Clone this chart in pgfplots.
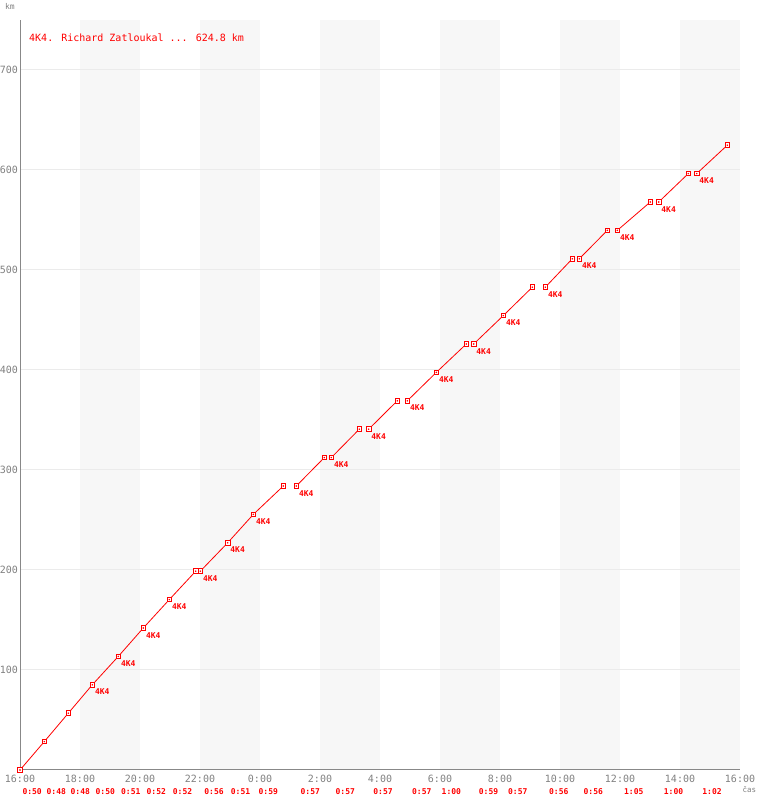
\documentclass[border=0pt]{standalone}
\usepackage{pgfplots}
\pgfplotsset{compat=1.18}
\usepackage{pgfplotstable}
\usepackage{fontspec}
\setmainfont{DejaVu Sans Mono}
\definecolor{band}{HTML}{F7F7F7}
\definecolor{gridc}{HTML}{EBEBEB}
\definecolor{axc}{HTML}{888888}
\definecolor{tickc}{HTML}{808080}
\definecolor{rd}{HTML}{FF0000}

\pgfplotstableread{
t km
0.000 0
0.810 28.4
1.610 56.8
2.410 85.2
3.277 113.6
4.110 142.0
4.977 170.4
5.857 198.8
nan nan
6.010 198.8
6.923 227.2
7.777 255.6
8.777 284.0
nan nan
9.210 284.0
10.143 312.4
nan nan
10.377 312.4
11.310 340.8
nan nan
11.623 340.8
12.577 369.2
nan nan
12.910 369.2
13.877 397.6
14.877 426.0
nan nan
15.123 426.0
16.110 454.4
17.077 482.8
nan nan
17.510 482.8
18.410 511.2
nan nan
18.643 511.2
19.577 539.6
nan nan
19.910 539.6
21.010 568.0
nan nan
21.290 568.0
22.277 596.4
nan nan
22.557 596.4
23.577 624.8
}\linetab

\pgfplotstableread{
t km
0.000 0
0.810 28.4
1.610 56.8
2.410 85.2
3.277 113.6
4.110 142.0
4.977 170.4
5.857 198.8
6.010 198.8
6.923 227.2
7.777 255.6
8.777 284.0
9.210 284.0
10.143 312.4
10.377 312.4
11.310 340.8
11.623 340.8
12.577 369.2
12.910 369.2
13.877 397.6
14.877 426.0
15.123 426.0
16.110 454.4
17.077 482.8
17.510 482.8
18.410 511.2
18.643 511.2
19.577 539.6
19.910 539.6
21.010 568.0
21.290 568.0
22.277 596.4
22.557 596.4
23.577 624.8
}\marktab

\pgfplotstableread{
t km lab
2.410 85.2 4K4
3.277 113.6 4K4
4.110 142.0 4K4
4.977 170.4 4K4
6.010 198.8 4K4
6.923 227.2 4K4
7.777 255.6 4K4
9.210 284.0 4K4
10.377 312.4 4K4
11.623 340.8 4K4
12.910 369.2 4K4
13.877 397.6 4K4
15.123 426.0 4K4
16.110 454.4 4K4
17.510 482.8 4K4
18.643 511.2 4K4
19.910 539.6 4K4
21.290 568.0 4K4
22.557 596.4 4K4
}\stoptab

\pgfplotstableread{
t y lab
0.405 -22 0:50
1.210 -22 0:48
2.010 -22 0:48
2.843 -22 0:50
3.693 -22 0:51
4.543 -22 0:52
5.417 -22 0:52
6.467 -22 0:56
7.350 -22 0:51
8.277 -22 0:59
9.677 -22 0:57
10.843 -22 0:57
12.100 -22 0:57
13.393 -22 0:57
14.377 -22 1:00
15.617 -22 0:59
16.593 -22 0:57
17.960 -22 0:56
19.110 -22 0:56
20.460 -22 1:05
21.783 -22 1:00
23.067 -22 1:02
}\laptab

\begin{document}
\begin{tikzpicture}
\begin{axis}[
  set layers,
  scale only axis, width=720bp, height=750bp,
  xmin=0, xmax=24, ymin=0, ymax=750,
  axis lines=left,
  axis line style={axc, line width=1bp, -},
  major tick length=0pt,
  xtick={0,2,...,24},
  xticklabels={16:00,18:00,20:00,22:00,0:00,2:00,4:00,6:00,8:00,10:00,12:00,14:00,16:00},
  ytick={100,200,...,700},
  ymajorgrids,
  grid style={gridc, line width=1bp},
  ticklabel style={font=\fontsize{10bp}{12bp}\selectfont, text=tickc},
  xticklabel style={yshift=-1.5bp},
  yticklabel style={xshift=1.5bp},
  /pgf/number format/assume math mode=true,
  clip=false,
]
\addplot[fill=band, draw=none, on layer=axis background, forget plot] coordinates {(2,750) (4,750)} \closedcycle;
\addplot[fill=band, draw=none, on layer=axis background, forget plot] coordinates {(6,750) (8,750)} \closedcycle;
\addplot[fill=band, draw=none, on layer=axis background, forget plot] coordinates {(10,750) (12,750)} \closedcycle;
\addplot[fill=band, draw=none, on layer=axis background, forget plot] coordinates {(14,750) (16,750)} \closedcycle;
\addplot[fill=band, draw=none, on layer=axis background, forget plot] coordinates {(18,750) (20,750)} \closedcycle;
\addplot[fill=band, draw=none, on layer=axis background, forget plot] coordinates {(22,750) (24,750)} \closedcycle;

\addplot[rd, line width=0.8bp, mark=none, unbounded coords=jump] table[x=t, y=km] {\linetab};
\addplot[only marks, mark=square*, mark size=2.3bp, mark options={fill=white, draw=rd, line width=0.9bp}] table[x=t, y=km] {\marktab};
\addplot[only marks, mark=*, mark size=0.55bp, rd] table[x=t, y=km] {\marktab};

\addplot[only marks, mark=text, text mark={}, nodes near coords, point meta=explicit symbolic,
  nodes near coords style={anchor=north west, inner sep=0pt, xshift=2.5bp, yshift=-4bp,
  font=\bfseries\fontsize{8bp}{9bp}\selectfont, text=rd}]
  table[x=t, y=km, meta=lab] {\stoptab};

\addplot[only marks, mark=text, text mark={}, nodes near coords, point meta=explicit symbolic,
  nodes near coords style={anchor=center, inner sep=0pt,
  font=\bfseries\fontsize{8bp}{9bp}\selectfont, text=rd}]
  table[x=t, y=y, meta=lab] {\laptab};

\node[anchor=west, inner sep=0pt, text=rd, font=\fontsize{10bp}{12bp}\selectfont] at (axis cs:0.3,732) {4K4. Richard Zatloukal ... 624.8 km};
\node[inner sep=0pt, text=tickc, font=\fontsize{8bp}{9bp}\selectfont] at ([xshift=-10bp, yshift=13.5bp]rel axis cs:0,1) {km};
\node[inner sep=0pt, text=tickc, font=\fontsize{7.5bp}{9bp}\selectfont] at ([xshift=9.3bp, yshift=-20bp]rel axis cs:1,0) {čas};
\end{axis}
\pgfresetboundingbox
\path ([shift={(-20bp,-30bp)}]current axis.south west) rectangle ([shift={(20bp,20bp)}]current axis.north east);
\end{tikzpicture}
\end{document}
